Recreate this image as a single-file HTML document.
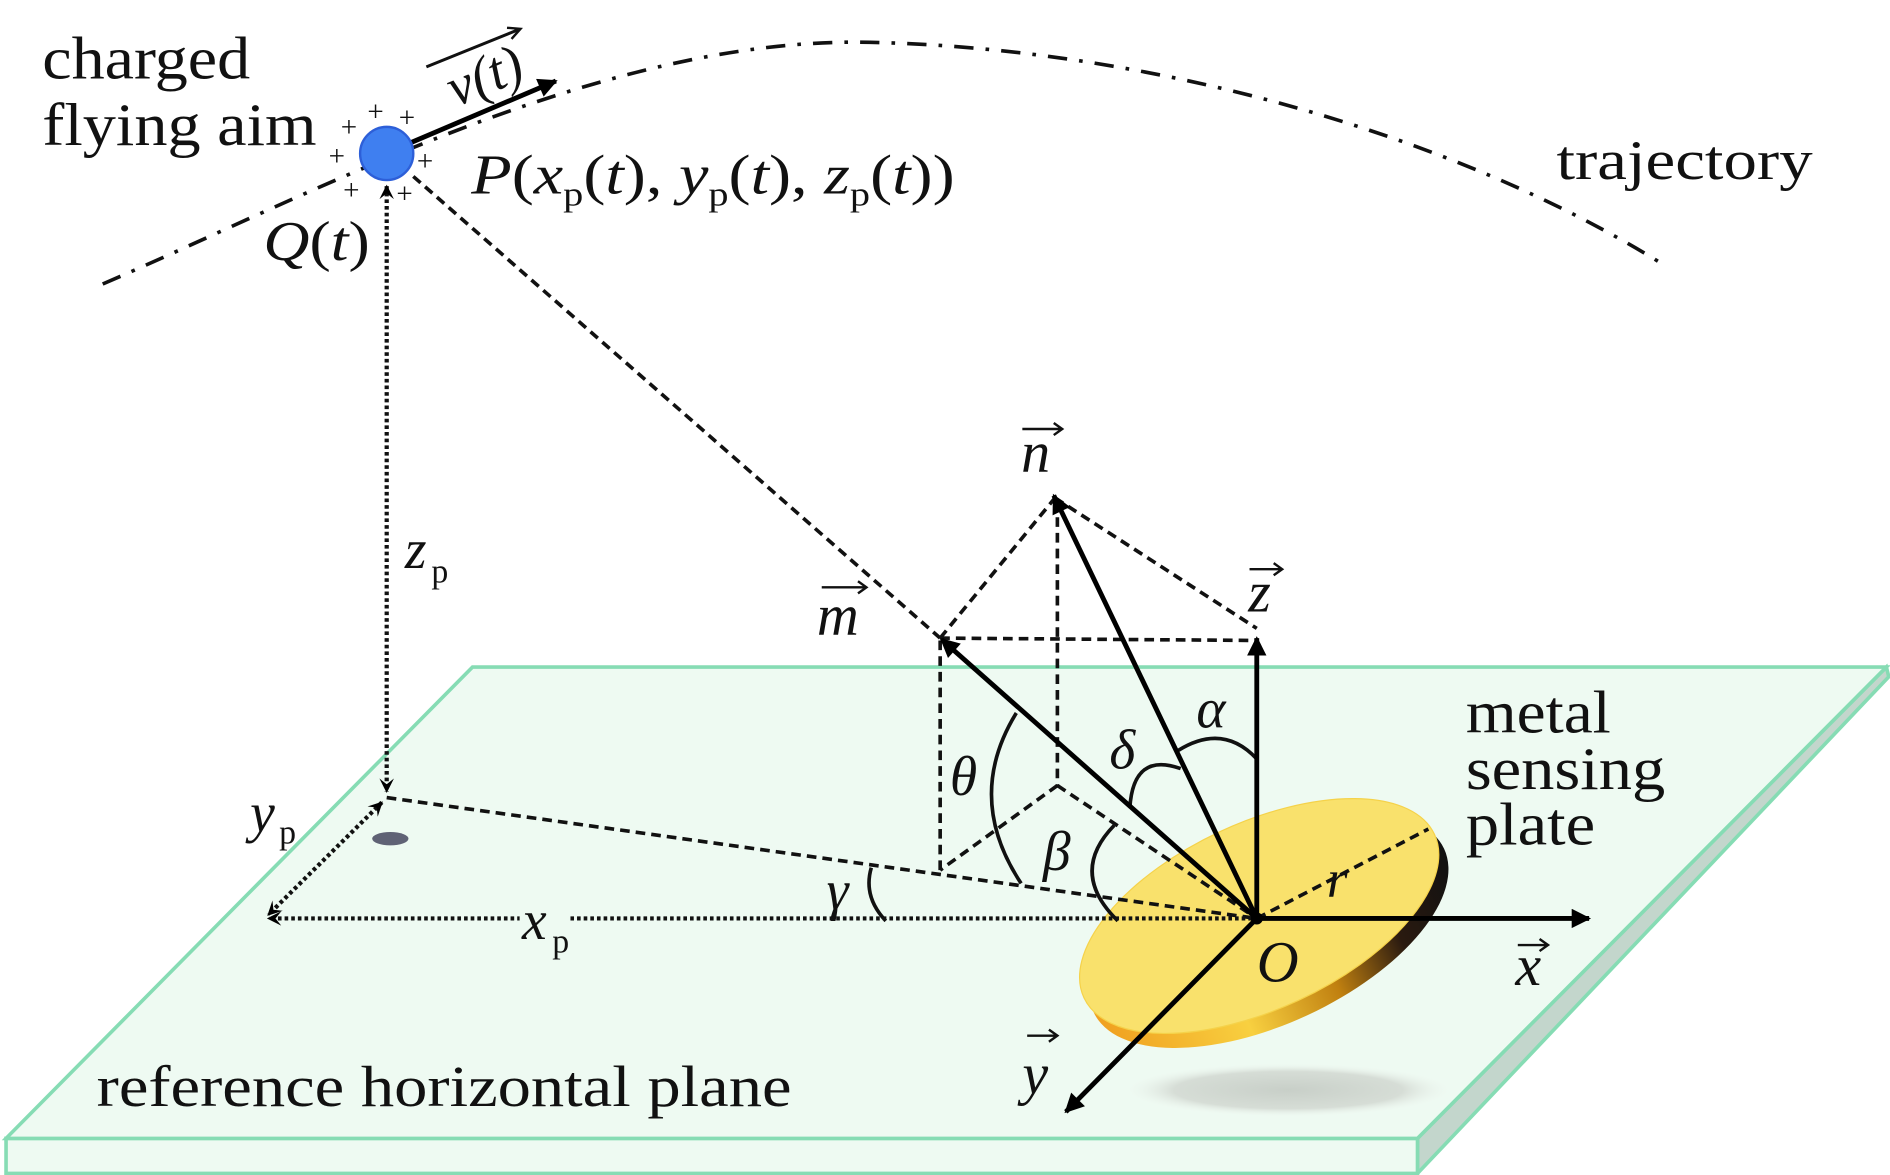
<!DOCTYPE html>
<html><head><meta charset="utf-8"><style>
html,body{margin:0;padding:0;background:#fff;}
svg{display:block;}
text{font-family:"Liberation Serif",serif;fill:#111;}
.i{font-style:italic;}
</style></head><body>
<svg width="1890" height="1175" viewBox="0 0 1564 972.3" preserveAspectRatio="none" xmlns="http://www.w3.org/2000/svg">
<defs>
<marker id="AH" viewBox="0 0 10 10" refX="9" refY="5" markerWidth="20" markerHeight="16" orient="auto" markerUnits="userSpaceOnUse"><path d="M0,0 L10,5 L0,10 z" fill="#000"/></marker>
<marker id="sa" viewBox="0 0 10 10" refX="9" refY="5" markerWidth="12" markerHeight="12" orient="auto-start-reverse" markerUnits="userSpaceOnUse"><path d="M0,0 L10,5 L0,10 L4,5 z" fill="#000"/></marker>
<linearGradient id="edge" x1="0" y1="0" x2="1" y2="0">
<stop offset="0" stop-color="#f0a020"/><stop offset="0.35" stop-color="#f8d040"/><stop offset="0.6" stop-color="#c08010"/><stop offset="0.8" stop-color="#2a1a10"/><stop offset="1" stop-color="#111"/>
</linearGradient>
<radialGradient id="sh" cx="0.5" cy="0.5" r="0.5"><stop offset="0" stop-color="#c8cfc8"/><stop offset="0.7" stop-color="#d6ddd6"/><stop offset="1" stop-color="#eef6ef" stop-opacity="0"/></radialGradient>
</defs>

<polygon points="1561,552 1563,560 1173,971 1173,942" fill="#c3d6cc" stroke="#86dcb4" stroke-width="3"/>
<rect x="5" y="942" width="1168" height="29" fill="#eefaf2" stroke="#86dcb4" stroke-width="3"/>
<polygon points="391,552 1561,552 1173,942 5,942" fill="#eefaf2" stroke="#86dcb4" stroke-width="3"/>

<ellipse cx="1066" cy="902" rx="135" ry="22" fill="url(#sh)"/>
<ellipse cx="1050" cy="770" rx="160" ry="77" transform="rotate(-25 1050 770)" fill="url(#edge)"/>
<ellipse cx="1042" cy="758" rx="160" ry="77" transform="rotate(-25 1042 758)" fill="#f9e16c" stroke="#f5d24a" stroke-width="1"/>

<text class="i" x="1098" y="742" font-size="44">r</text>

<ellipse cx="323" cy="694" rx="15" ry="5.5" fill="#5f6275"/>

<path d="M85,235 C 260,160 500,30 720,35 C 950,40 1200,110 1375,218" fill="none" stroke="#111" stroke-width="3" stroke-dasharray="16 10 3 10"/>

<g fill="none" stroke="#111" stroke-width="3" stroke-dasharray="8 5">
<line x1="342" y1="146" x2="778" y2="528"/>
<line x1="778" y1="528" x2="873" y2="412"/>
<line x1="873" y1="412" x2="1040" y2="520"/>
<line x1="778" y1="528" x2="1040" y2="530"/>
<line x1="875" y1="415" x2="875" y2="650"/>
<line x1="778" y1="530" x2="778" y2="720"/>
<line x1="875" y1="650" x2="778" y2="720"/>
<line x1="875" y1="650" x2="1040" y2="760"/>
<line x1="320" y1="660" x2="1040" y2="760"/>
<line x1="1040" y1="760" x2="1182" y2="686"/>
</g>
<g fill="none" stroke="#111" stroke-width="3.5" stroke-dasharray="3 2.5">
<line x1="320" y1="154" x2="320" y2="655" marker-start="url(#sa)" marker-end="url(#sa)"/>
<line x1="316" y1="664" x2="222" y2="757" marker-start="url(#sa)" marker-end="url(#sa)"/>
<line x1="1036" y1="760" x2="222" y2="760" marker-end="url(#sa)"/>
</g>
<rect x="430" y="748" width="42" height="42" fill="#eefaf2"/>
<text class="i" x="432" y="777" font-size="46">x</text><text x="457" y="788" font-size="28">p</text>

<g fill="none" stroke="#111" stroke-width="3">
<path d="M721,718 Q714,742 733,762"/>
<path d="M841,590 Q798,660 845,731"/>
<path d="M922,683 Q884,722 925,762"/>
<path d="M977,636 Q938,622 935,668"/>
<path d="M975,621 Q1012,598 1040,628"/>
</g>

<g stroke="#000" stroke-width="4" fill="none">
<line x1="1040" y1="760" x2="1040" y2="528" marker-end="url(#AH)"/>
<line x1="1040" y1="760" x2="1315" y2="760" marker-end="url(#AH)"/>
<line x1="1040" y1="760" x2="882" y2="920" marker-end="url(#AH)"/>
<line x1="1040" y1="760" x2="872" y2="410" marker-end="url(#AH)"/>
<line x1="1040" y1="760" x2="779" y2="529" marker-end="url(#AH)"/>
<line x1="340" y1="118" x2="460" y2="67" marker-end="url(#AH)"/>
</g>
<circle cx="1040" cy="760" r="5" fill="#000"/>

<circle cx="320" cy="127" r="22" fill="#3f7ff0" stroke="#2d5fd8" stroke-width="2"/>
<g font-size="24" font-family="Liberation Sans,sans-serif">
<text x="282" y="113">+</text><text x="304" y="100">+</text><text x="330" y="105">+</text>
<text x="272" y="137">+</text><text x="345" y="141">+</text>
<text x="284" y="165">+</text><text x="328" y="168">+</text>
</g>

<text x="35" y="65" font-size="50" textLength="172" lengthAdjust="spacingAndGlyphs">charged</text>
<text x="35" y="120" font-size="50" textLength="227" lengthAdjust="spacingAndGlyphs">flying aim</text>
<g transform="rotate(-22 400 60)"><text class="i" x="368" y="78" font-size="46">v(t)</text>
<line x1="358" y1="38" x2="440" y2="38" stroke="#111" stroke-width="2.5"/><path d="M432,33 L442,38 L432,43" fill="none" stroke="#111" stroke-width="2"/></g>
<text x="390" y="160" font-size="46" textLength="400" lengthAdjust="spacingAndGlyphs"><tspan class="i">P</tspan>(<tspan class="i">x</tspan><tspan font-size="28" dy="10">p</tspan><tspan dy="-10">(</tspan><tspan class="i">t</tspan>), <tspan class="i">y</tspan><tspan font-size="28" dy="10">p</tspan><tspan dy="-10">(</tspan><tspan class="i">t</tspan>), <tspan class="i">z</tspan><tspan font-size="28" dy="10">p</tspan><tspan dy="-10">(</tspan><tspan class="i">t</tspan>))</text>
<text x="218" y="215" font-size="46" textLength="88" lengthAdjust="spacingAndGlyphs"><tspan class="i">Q</tspan>(<tspan class="i">t</tspan>)</text>
<text x="1288" y="148" font-size="46" textLength="212" lengthAdjust="spacingAndGlyphs">trajectory</text>
<text class="i" x="335" y="470" font-size="46">z</text><text x="357" y="482" font-size="28">p</text>
<text class="i" x="207" y="688" font-size="46">y</text><text x="231" y="698" font-size="28">p</text>
<text x="1213" y="606" font-size="50" textLength="120" lengthAdjust="spacingAndGlyphs">metal</text>
<text x="1213" y="653" font-size="50" textLength="165" lengthAdjust="spacingAndGlyphs">sensing</text>
<text x="1213" y="699" font-size="50" textLength="107" lengthAdjust="spacingAndGlyphs">plate</text>
<text x="80" y="915" font-size="48" textLength="575" lengthAdjust="spacingAndGlyphs">reference horizontal plane</text>

<g class="i" font-size="48">
<text class="i" x="845" y="390">n</text>
<text class="i" x="676" y="525">m</text>
<text class="i" x="1033" y="506">z</text>
<text class="i" x="1254" y="815">x</text>
<text class="i" x="846" y="905">y</text>
<text class="i" x="1040" y="812" font-size="48">O</text>
<text class="i" x="990" y="602" font-size="46">α</text>
<text class="i" x="918" y="636" font-size="46">δ</text>
<text class="i" x="863" y="720" font-size="46">β</text>
<text class="i" x="786" y="658" font-size="46">θ</text>
<text class="i" x="684" y="752" font-size="46">γ</text>
</g>
<g stroke="#111" stroke-width="2" fill="none">
<path d="M846,355 L878,355 M872,350 L879,355 L872,360"/>
<path d="M680,486 L716,486 M710,481 L717,486 L710,491"/>
<path d="M1034,471 L1060,471 M1054,466 L1061,471 L1054,476"/>
<path d="M1256,782 L1280,782 M1274,777 L1281,782 L1274,787"/>
<path d="M850,857 L874,857 M868,852 L875,857 L868,862"/>
</g>
</svg>
</body></html>
